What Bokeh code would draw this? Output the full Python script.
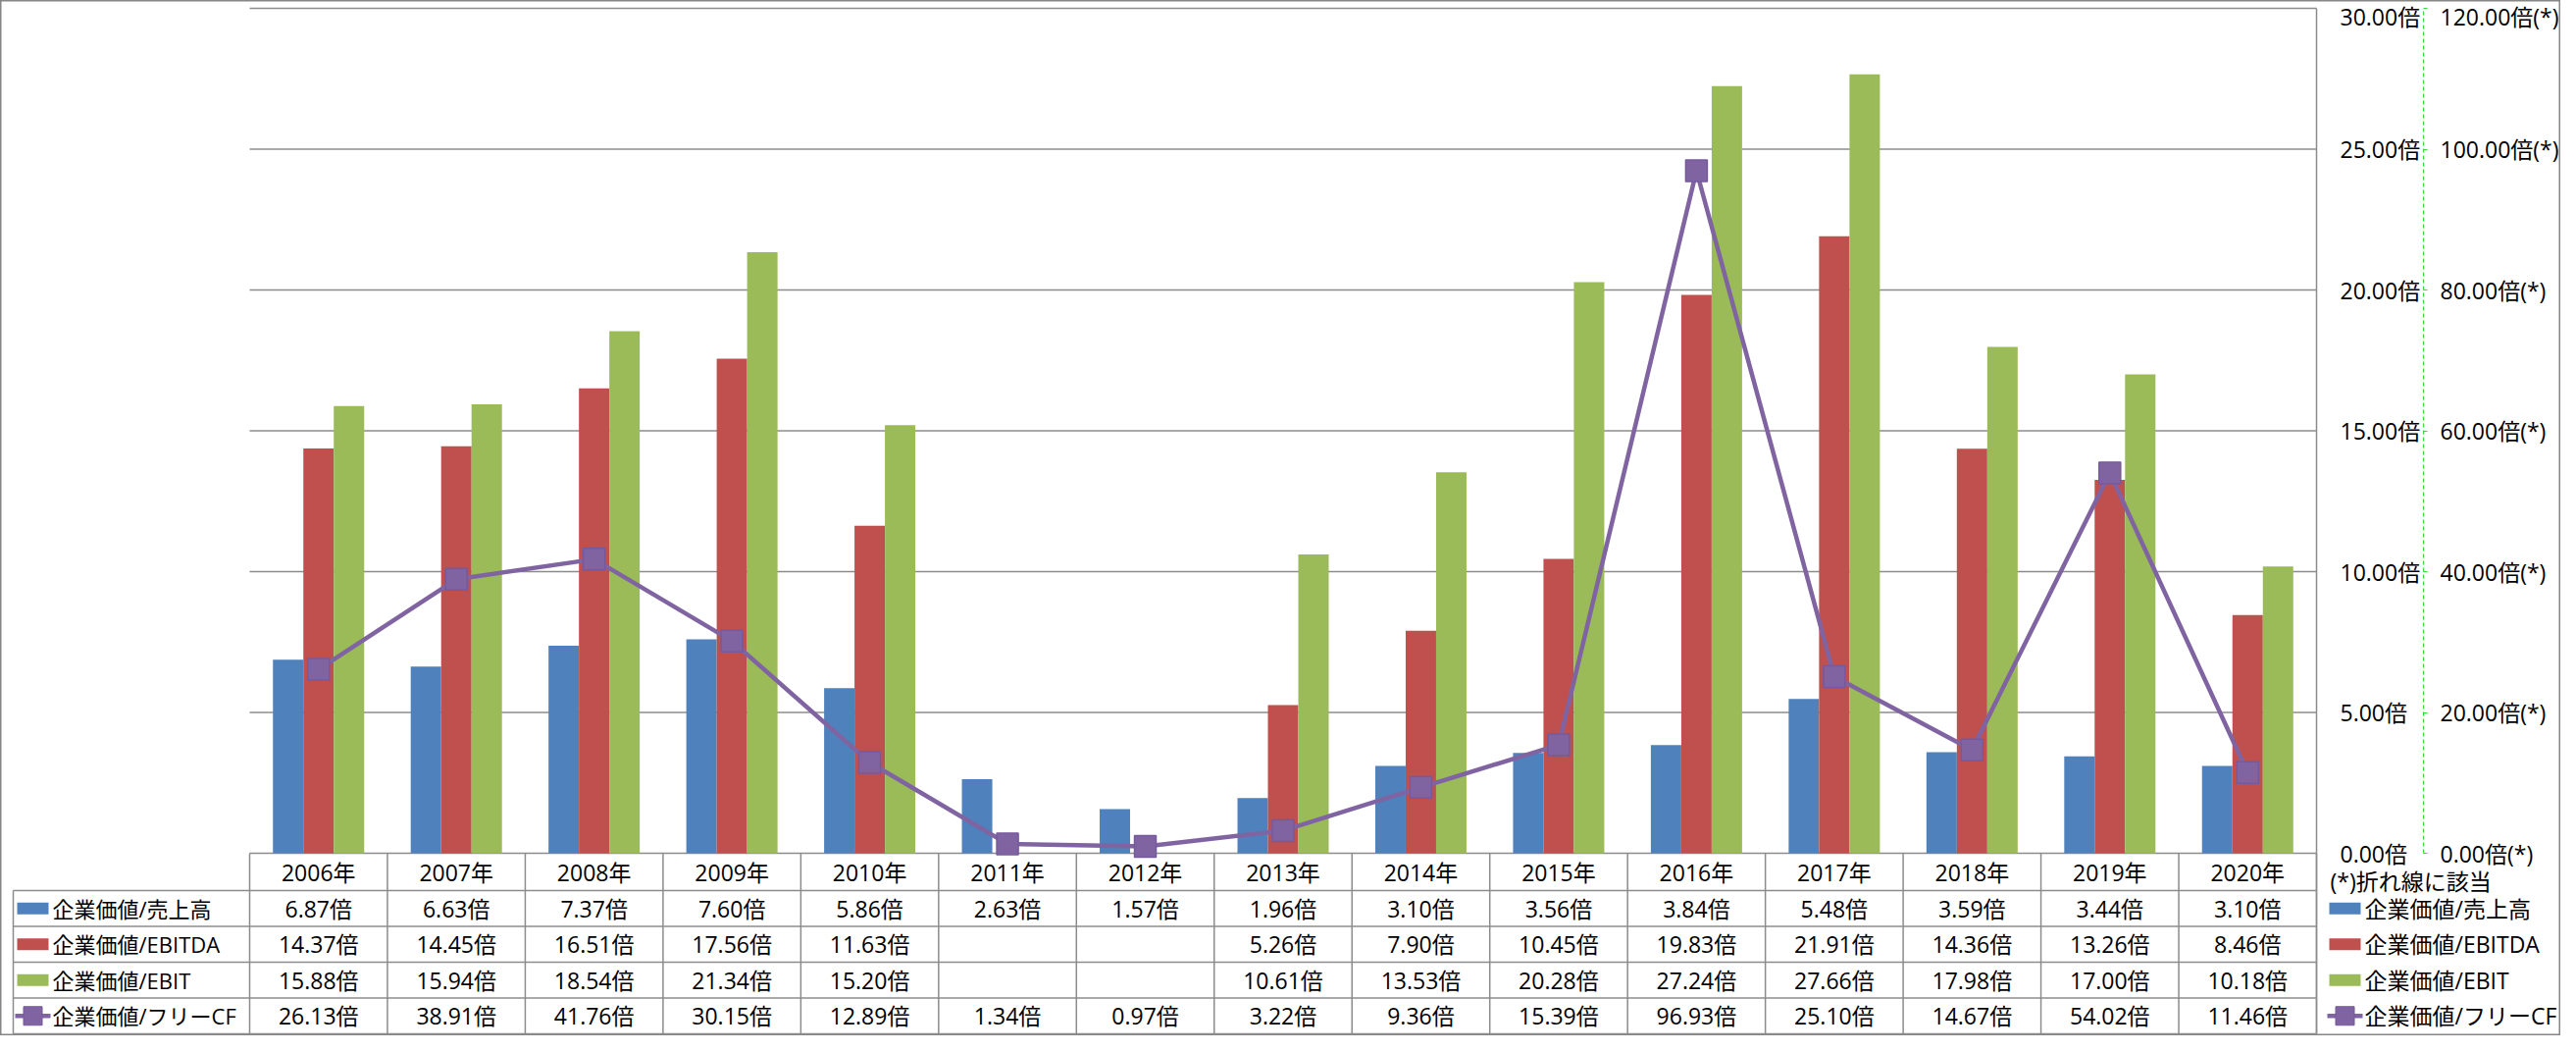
import numpy as np
from bokeh.plotting import figure
from bokeh.models import Range1d, LinearAxis, FixedTicker, PrintfTickFormatter
from bokeh.core.properties import value
from bokeh.embed import file_html
from bokeh.resources import INLINE

# ---------------- data ----------------
years = ["2006年", "2007年", "2008年", "2009年", "2010年", "2011年", "2012年", "2013年",
         "2014年", "2015年", "2016年", "2017年", "2018年", "2019年", "2020年"]
ev_sales = [6.87, 6.63, 7.37, 7.60, 5.86, 2.63, 1.57, 1.96, 3.10, 3.56, 3.84, 5.48, 3.59, 3.44, 3.10]
ev_ebitda = [14.37, 14.45, 16.51, 17.56, 11.63, None, None, 5.26, 7.90, 10.45, 19.83, 21.91, 14.36, 13.26, 8.46]
ev_ebit = [15.88, 15.94, 18.54, 21.34, 15.20, None, None, 10.61, 13.53, 20.28, 27.24, 27.66, 17.98, 17.00, 10.18]
ev_fcf = [26.13, 38.91, 41.76, 30.15, 12.89, 1.34, 0.97, 3.22, 9.36, 15.39, 96.93, 25.10, 14.67, 54.02, 11.46]
series_names = ["企業価値/売上高", "企業価値/EBITDA", "企業価値/EBIT", "企業価値/フリーCF"]
y_ticks = [0, 5, 10, 15, 20, 25, 30]
y2_ticks = [0, 20, 40, 60, 80, 100, 120]
note_text = "(*)折れ線に該当"

# ---------------- layout / style ----------------
W, H = 2610, 1055
PLOT_L, PLOT_R = 254, 2361
PLOT_T, BASE = 8, 869
HEADER_H, ROW_H = 38, 36.5
TAB_L = 13
FONT_NAME = "Open Sans, Noto Sans CJK JP"
FONT = value(FONT_NAME)
FS = "23px"
GRAY = "#8c8c8c"
COLORS = ["#4F81BD", "#C0504D", "#9BBB59", "#8064A2"]
PURPLE_EDGE = "#76599c"

n = len(years)
cat_w = (PLOT_R - PLOT_L) / n
ymax = y_ticks[-1]
y2max = y2_ticks[-1]
ppu = (BASE - PLOT_T) / ymax


def xd(px):
    return (px - PLOT_L) / cat_w - 0.5


def yd(py):
    return (BASE - py) / ppu


row_borders = [BASE, BASE + HEADER_H] + [BASE + HEADER_H + ROW_H * (k + 1) for k in range(4)]
row_centers = [(row_borders[k + 1] + row_borders[k + 2]) / 2 for k in range(4)]
header_center = (row_borders[0] + row_borders[1]) / 2
TAB_B = row_borders[-1]

p = figure(width=W, height=H,
           x_range=Range1d(xd(0), xd(W)), y_range=Range1d(yd(H), yd(0)),
           output_backend="svg", toolbar_location=None, min_border=0,
           x_axis_location=None, y_axis_location=None,
           background_fill_color="white", border_fill_color="white",
           outline_line_color="#868686", outline_line_width=2)
p.grid.visible = False
ratio = y2max / ymax
p.extra_y_ranges = {"cf": Range1d(yd(H) * ratio, yd(0) * ratio)}

# gridlines
p.segment(x0=[-0.5] * len(y_ticks), x1=[n - 0.5] * len(y_ticks), y0=y_ticks, y1=y_ticks,
          line_color=GRAY, line_width=1.5)
# right edge of plot area
p.segment(x0=[n - 0.5], x1=[n - 0.5], y0=[ymax], y1=[yd(TAB_B)], line_color=GRAY, line_width=1.5)

# bars
bw = 31 / cat_w
for k, vals in enumerate([ev_sales, ev_ebitda, ev_ebit]):
    off = (k - 1) * bw
    xs = [i + off for i, v in enumerate(vals) if v is not None]
    tops = [v for v in vals if v is not None]
    p.vbar(x=xs, top=tops, bottom=0, width=bw, fill_color=COLORS[k], line_color=None)

# line
idx = list(range(n))
p.line(x=idx, y=ev_fcf, y_range_name="cf", line_color=COLORS[3], line_width=4.5)
p.scatter(x=idx, y=ev_fcf, y_range_name="cf", marker="square", size=22,
          fill_color=COLORS[3], line_color=PURPLE_EDGE, line_width=1.5)

# ---------------- data table ----------------
p.segment(x0=[xd(TAB_L)] * 5, x1=[n - 0.5] * 5,
          y0=[yd(b) for b in row_borders[1:]], y1=[yd(b) for b in row_borders[1:]],
          line_color=GRAY, line_width=1.5)
vx = [i - 0.5 for i in range(n + 1)]
p.segment(x0=vx, x1=vx, y0=[0] * len(vx), y1=[yd(TAB_B)] * len(vx), line_color=GRAY, line_width=1.5)
p.segment(x0=[xd(TAB_L)], x1=[xd(TAB_L)], y0=[yd(row_borders[1])], y1=[yd(TAB_B)],
          line_color=GRAY, line_width=1.5)

p.text(x=idx, y=[yd(header_center)] * n, text=years, text_font=FONT, text_font_size=FS,
       text_align="center", text_baseline="middle", text_color="black")

for r, vals in enumerate([ev_sales, ev_ebitda, ev_ebit, ev_fcf]):
    xs = [i for i, v in enumerate(vals) if v is not None]
    txt = [f"{v:.2f}倍" for v in vals if v is not None]
    p.text(x=xs, y=[yd(row_centers[r])] * len(xs), text=txt, text_font=FONT, text_font_size=FS,
           text_align="center", text_baseline="middle", text_color="black")

# legend keys (row headers and right legend)
for key_cx, line_x0, line_x1, text_x, fs in [(33, 15, 51, 53, "22px"), (2390, 2372, 2408, 2410, FS)]:
    for r in range(3):
        p.rect(x=[xd(key_cx)], y=[yd(row_centers[r])], width=32, height=12,
               width_units="screen", height_units="screen", fill_color=COLORS[r], line_color=None)
    p.segment(x0=[xd(line_x0)], x1=[xd(line_x1)], y0=[yd(row_centers[3])], y1=[yd(row_centers[3])],
              line_color=COLORS[3], line_width=4.5)
    p.scatter(x=[xd(key_cx)], y=[yd(row_centers[3])], marker="square", size=19,
              fill_color=COLORS[3], line_color=PURPLE_EDGE)
    p.text(x=[xd(text_x)] * 4, y=[yd(c) for c in row_centers], text=series_names,
           text_font=FONT, text_font_size=fs, text_align="left", text_baseline="middle",
           text_color="black")

p.text(x=[xd(2375)], y=[yd(BASE + 28)], text=[note_text], text_font=FONT, text_font_size="23px",
       text_align="left", text_baseline="middle", text_color="black")

# ---------------- axes ----------------
ax1 = LinearAxis(ticker=FixedTicker(ticks=y_ticks), formatter=PrintfTickFormatter(format="%.2f倍"),
                 fixed_location=xd(2380), bounds=(0, ymax),
                 axis_line_color=None, major_tick_line_color=None, minor_tick_line_color=None,
                 major_tick_out=0, major_tick_in=0, major_label_standoff=5,
                 major_label_text_font=FONT_NAME, major_label_text_font_size=FS,
                 major_label_text_color="black")
p.add_layout(ax1, "right")

ax2 = LinearAxis(y_range_name="cf", ticker=FixedTicker(ticks=y2_ticks),
                 formatter=PrintfTickFormatter(format="%.2f倍(*)"),
                 fixed_location=xd(2470), bounds=(0, y2max),
                 axis_line_color="#33dd33", axis_line_dash="4 3", axis_line_width=1.2,
                 major_tick_line_color="#33dd33", major_tick_out=4, major_tick_in=0,
                 minor_tick_line_color=None, major_label_standoff=13,
                 major_label_text_font=FONT_NAME, major_label_text_font_size=FS,
                 major_label_text_color="black")
p.add_layout(ax2, "right")

open("out.html", "w").write(file_html(p, INLINE))
